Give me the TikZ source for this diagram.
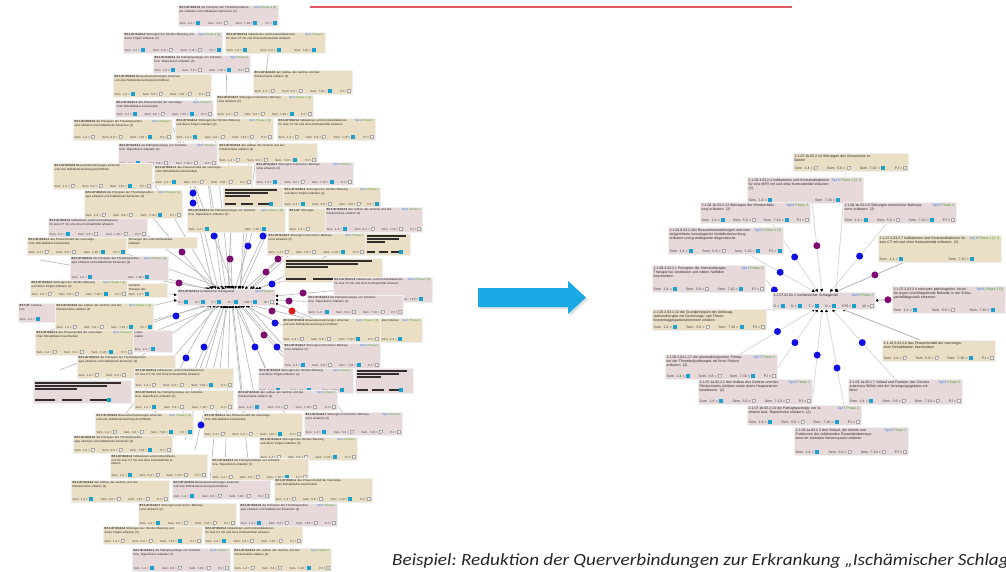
\documentclass[tikz,border=0pt]{standalone}
\usepackage{fontspec}
\usepackage{graphicx}
\setmainfont{Liberation Sans}
\newfontfamily\capfont{Carlito}
\usetikzlibrary{arrows.meta}
\pgfdeclarelayer{back}
\pgfdeclarelayer{bg}
\pgfsetlayers{back,bg,main}
\definecolor{cardtan}{RGB}{234,223,197}
\definecolor{cardpink}{RGB}{231,217,217}
\definecolor{sqcol}{RGB}{30,160,205}
\definecolor{tagblue}{RGB}{40,120,225}
\definecolor{taggreen}{RGB}{70,160,60}
\definecolor{dotblue}{RGB}{15,15,225}
\definecolor{dotpurple}{RGB}{125,10,110}
\definecolor{dotred}{RGB}{230,25,25}
\definecolor{arrowblue}{RGB}{25,170,230}
\definecolor{topred}{RGB}{222,90,95}
\definecolor{barcol}{RGB}{50,45,45}

\newcommand\cardfont{\fontsize{2.9}{3.4}\selectfont}
\newcommand\sqon{\textcolor{sqcol}{\rule[-0.5pt]{4pt}{3.4pt}}}
\newcommand\sqoff{{\setlength\fboxsep{0pt}\setlength\fboxrule{0.25pt}\fcolorbox{gray!70}{gray!12}{\rule[-0.3pt]{0pt}{2.8pt}\hspace{2.8pt}}}}
\newcommand\sq[1]{\ifcase#1 \sqoff\or\sqon\fi}
\newcommand\semrow[4]{\hbox to\hsize{Sem. 1-4 = \sq{#1}\hfill Sem. 5-6 = \sq{#2}\hfill Sem. 7-10 = \sq{#3}\hfill PJ = \sq{#4}}}
\newcommand\semtwo[2]{\hbox to\hsize{Sem. 1-4 = \sq{#1}\hspace{0.38\hsize}Sem. 7-10 = \sq{#2}\hfill}}
\newcommand\semthree[3]{\hbox to\hsize{Sem. 1-4 = \sq{#1}\hfill Sem. 5-6 = \sq{#2}\hfill Sem. 7-10 = \sq{#3}\hspace{0.08\hsize}}}
\newcommand\semone[1]{\hbox to\hsize{Sem. 1-4 = \sq{#1}\hfill}}
\newcommand\hubrow{\hbox to\hsize{D = \sqon\hfill G = \sqon\hfill T = \sqon\hfill N = \sqon\hfill P/R = \sqon\hfill W = \sqoff}}
\newcommand\tg[3]{\textcolor{tagblue}{Spl #1} \textcolor{taggreen}{Phase #2#3}}

\newcommand\ttlA{\textbf{B7.1.07.08.01.5} die Prinzipien der Thrombolysetherapie erläutern und Indikationen benennen (2)}
\newcommand\ttlB{\textbf{B7.1.07.03.02.4} Störungen der Hirndurchblutung und deren Folgen erläutern (2)}
\newcommand\ttlC{\textbf{B7.1.07.06.01.2} Indikationen und Kontraindikationen für eine CT mit und ohne Kontrastmittel erläutern}
\newcommand\ttlD{\textbf{B7.1.07.04.03.1} die Pathophysiologie von Ischämie bzw. Reperfusion erläutern (2)}
\newcommand\ttlE{\textbf{B7.1.07.02.04.3} den Aufbau des Gehirns und des Rückenmarks erklären (2)}
\newcommand\ttlF{\textbf{B7.1.07.05.02.6} Bewusstseinsstörungen erkennen und eine Notfalluntersuchung durchführen}
\newcommand\ttlG{\textbf{B7.1.07.09.01.1} das Phasenmodell der neurologischen Rehabilitation beschreiben}
\newcommand\ttlH{\textbf{B7.1.07.01.02.7} Störungen motorischer Bahnsysteme erläutern (2)}

\newcommand\card[9]{%
  \node[cardbox,fill=#6,minimum width=#4,minimum height=#5,anchor=north west] (#1) at (#2,#3) {};
  \pgfmathsetlengthmacro\cardtw{0.7*#4}%
  \pgfmathsetlengthmacro\cardrw{#4-3}%
  \node[cardtitle,text width=\cardtw,anchor=north west] at ([shift={(1.5,1.4)}]#1.north west) {#7};
  \node[cardtag,anchor=north east] at ([shift={(-1.5,1.4)}]#1.north east) {#8};
  \node[cardrow,text width=\cardrw,anchor=south west] at ([shift={(1.5,-1.2)}]#1.south west) {#9};
}
\newcommand\barcard[6]{%
  \node[cardbox,fill=#6,minimum width=#4,minimum height=#5,anchor=north west] (#1) at (#2,#3) {};
  \begin{scope}[shift={(#2,#3)}]
    \draw[barline] (2,3) -- ({0.9*#4},3);
    \draw[barline] (2,6) -- ({0.75*#4},6);
    \draw[barline] (2,9) -- ({0.45*#4},9);
    \draw[barline] (2,{#5-3}) -- ({0.22*#4},{#5-3});
    \draw[barline] ({0.3*#4},{#5-3}) -- ({0.5*#4},{#5-3});
    \draw[barline] ({0.58*#4},{#5-3}) -- ({0.76*#4},{#5-3});
    \fill[sqcol] ({0.76*#4},{#5-5}) rectangle ++(4,4);
  \end{scope}}

\begin{document}
\begin{tikzpicture}[x=1pt,y=-1pt,
  cardbox/.style={rectangle,inner sep=0pt,outer sep=0pt,draw=black!6,line width=0.3pt},
  cardtitle/.style={inner sep=0pt,font=\cardfont,align=left,text=black!85},
  cardtag/.style={inner sep=0pt,font=\cardfont},
  cardrow/.style={inner sep=0pt,font=\cardfont,text=black!75},
  barline/.style={draw=barcol,line width=1.3pt},
  lconn/.style={draw=gray!55,line width=0.65pt,-{Triangle[length=2.8pt,width=2.6pt,color=black]}},
  rconn/.style={draw=gray!30,line width=0.8pt,{Triangle[length=3pt,width=2.8pt,color=black]}-},
  rconnd/.style={rconn,draw=gray!60},
  gdot/.style={circle,inner sep=0pt,minimum size=7pt,fill=#1}]
\useasboundingbox (0,0) rectangle (1006,571);
\begin{pgfonlayer}{back}\fill[white] (0,0) rectangle (1006,571);\end{pgfonlayer}

% top red line and blue arrow
\draw[topred,line width=1.6pt] (310,7) -- (792,7);
\fill[black,opacity=0.12] (480,290) -- (570,290) -- (570,283) -- (588,299.5) -- (570,316) -- (570,309) -- (480,309) -- cycle;
\fill[arrowblue] (478,288) -- (568,288) -- (568,281) -- (586,297.5) -- (568,314) -- (568,307) -- (478,307) -- cycle;

% ================= LEFT CLUSTER =================
\card{l1}{178}{5}{100}{21}{cardpink}{\ttlA}{\tg{1}{2}{ [2]}}{\semrow{1}{0}{1}{1}}
\card{l2}{123}{32}{99}{21}{cardpink}{\ttlB}{\tg{1}{2}{ [2]}}{\semrow{1}{0}{0}{1}}
\card{l3}{225}{32}{100}{21}{cardtan}{\ttlC}{\tg{1}{2}{}}{\semthree{1}{1}{1}}
\card{l4}{153}{55}{97}{18}{cardpink}{\ttlD}{\tg{1}{2}{}}{\semrow{1}{0}{1}{0}}
\card{l5}{253}{70}{99}{24}{cardtan}{\ttlE}{}{\semrow{0}{0}{1}{0}}
\card{l6}{113}{74}{98}{23}{cardtan}{\ttlF}{}{\semrow{1}{0}{0}{0}}
\card{l7}{115}{100}{98}{17}{cardpink}{\ttlG}{\tg{1}{2}{}}{\semrow{1}{0}{1}{0}}
\card{l8}{216}{95}{97}{22}{cardtan}{\ttlH}{\tg{1}{2}{ [2]}}{\semrow{0}{0}{1}{0}}
\card{l9}{73}{119}{99}{21}{cardtan}{\ttlA}{\tg{1}{2}{}}{\semrow{0}{0}{1}{0}}
\card{l10}{175}{118}{98}{22}{cardtan}{\ttlB}{\tg{1}{2}{ [2]}}{\semrow{1}{0}{0}{0}}
\card{l11}{277}{118}{98}{22}{cardtan}{\ttlC}{\tg{1}{2}{}}{\semrow{0}{0}{1}{0}}
\card{l12}{118}{143}{99}{23}{cardpink}{\ttlD}{\tg{1}{2}{}}{\semrow{1}{0}{0}{0}}
\card{l13}{218}{143}{99}{20}{cardtan}{\ttlE}{}{\semrow{0}{0}{1}{0}}
\card{l14}{53}{163}{99}{26}{cardtan}{\ttlF}{}{\semrow{0}{0}{1}{0}}
\card{l15}{154}{165}{98}{20}{cardtan}{\ttlG}{}{\semrow{1}{0}{0}{0}}
\card{l16}{255}{162}{98}{23}{cardpink}{\ttlH}{\tg{1}{2}{}}{\semrow{1}{0}{1}{0}}
\card{l17}{84}{190}{98}{28}{cardtan}{\ttlA}{\tg{1}{2}{ [2]}}{\semrow{0}{0}{1}{0}}
\barcard{l18}{223}{187}{60}{20}{cardtan}
\card{l19}{283}{187}{97}{20}{cardtan}{\ttlB}{\tg{1}{2}{}}{\semrow{1}{0}{0}{1}}
\card{l20}{48}{218}{99}{19}{cardpink}{\ttlC}{}{\semrow{1}{0}{0}{0}}
\card{l21}{187}{208}{98}{24}{cardtan}{\ttlD}{\tg{1}{1}{ [2]}}{\semtwo{1}{1}}
\card{l22}{288}{208}{37}{24}{cardtan}{\textbf{B7.1.07} Störungen}{}{\semone{0}}
\card{l23}{325}{207}{97}{25}{cardpink}{\ttlE}{\tg{1}{2}{}}{\semrow{1}{0}{0}{0}}
\card{l25}{127}{237}{70}{11}{cardtan}{Störungen des Volumenhaushalts erläutern}{}{}
\card{l24}{27}{237}{99}{18}{cardtan}{\ttlG}{}{\semrow{0}{0}{1}{1}}
\card{l26}{267}{233}{98}{22}{cardtan}{\ttlH}{\tg{1}{2}{}}{\semrow{0}{0}{1}{0}}
\barcard{l26b}{365}{233}{45}{22}{cardtan}
\card{l27}{70}{256}{98}{24}{cardpink}{\ttlA}{\tg{1}{2}{ [2]}}{\semtwo{1}{1}}
\barcard{l28}{284}{258}{98}{24}{cardtan}
\card{l29}{30}{280}{97}{17}{cardtan}{\ttlB}{\tg{1}{2}{ [2]}}{\semrow{0}{0}{1}{0}}
\card{l30}{127}{283}{40}{14}{cardtan}{Ischämie\\ Therapie des}{}{\semone{1}}
\card{l31}{333}{277}{99}{25}{cardpink}{\ttlC}{\tg{1}{2}{ [2]}}{\semthree{1}{0}{1}}
\card{lh}{177}{289}{98}{16}{cardpink}{\textbf{B7.1.07.02.01.1} Ischämischer Schlaganfall}{\tg{6}{2}{}}{\hubrow}
\card{l33}{307}{295}{96}{20}{cardpink}{\ttlD}{}{\semrow{1}{0}{0}{0}}
\card{l34}{18}{303}{37}{19}{cardpink}{\textbf{B7.1.07} Lokalisation}{}{\semone{1}}
\card{l35}{55}{303}{98}{27}{cardtan}{\ttlE}{\tg{1}{2}{ [2]}}{\semrow{0}{0}{1}{1}}
\card{l36}{282}{318}{98}{24}{cardtan}{\ttlF}{\tg{1}{2}{ [2]}}{\semrow{0}{0}{1}{0}}
\card{l36b}{380}{318}{42}{24}{cardtan}{aller Kriterien}{\tg{1}{2}{}}{\semone{1}}
\card{l37}{35}{330}{98}{25}{cardtan}{\ttlG}{\tg{1}{2}{}}{\semrow{0}{0}{1}{0}}
\card{l38}{133}{330}{39}{22}{cardpink}{Lokal-\\ isation}{}{\semone{1}}
\card{l39}{283}{343}{97}{25}{cardpink}{\ttlH}{\tg{1}{2}{}}{\semrow{1}{0}{1}{0}}
\card{l40}{77}{355}{98}{23}{cardtan}{\ttlA}{}{\semrow{0}{0}{0}{0}}
\card{l41}{258}{368}{95}{25}{cardpink}{\ttlB}{\tg{1}{2}{}}{\semthree{1}{1}{1}}
\barcard{l42}{355}{368}{58}{25}{cardpink}
\card{l43}{134}{368}{99}{20}{cardtan}{\ttlC}{}{\semrow{0}{0}{1}{0}}
\barcard{l44}{33}{380}{98}{23}{cardpink}
\card{l45}{134}{390}{99}{20}{cardtan}{\ttlD}{}{\semrow{1}{0}{0}{0}}
\card{l46}{237}{390}{100}{20}{cardpink}{\ttlE}{\tg{1}{2}{}}{\semrow{1}{0}{0}{0}}
\card{l47}{95}{413}{98}{22}{cardtan}{\ttlF}{\tg{1}{2}{ [2]}}{\semrow{0}{0}{1}{1}}
\card{l48}{203}{413}{99}{24}{cardtan}{\ttlG}{}{\semrow{0}{0}{1}{0}}
\card{l49}{304}{412}{98}{23}{cardpink}{\ttlH}{\tg{1}{2}{}}{\semrow{1}{0}{0}{0}}
\card{l50}{73}{435}{99}{18}{cardtan}{\ttlA}{}{\semrow{0}{0}{1}{0}}
\card{l51}{259}{437}{98}{23}{cardtan}{\ttlB}{\tg{1}{2}{}}{\semrow{0}{0}{1}{0}}
\card{l52}{110}{454}{97}{24}{cardtan}{\ttlC}{}{\semrow{1}{0}{0}{0}}
\card{l53}{211}{458}{97}{22}{cardtan}{\ttlD}{}{\semrow{0}{0}{1}{0}}
\card{l54}{71}{480}{98}{22}{cardtan}{\ttlE}{}{\semrow{1}{0}{0}{0}}
\card{l55}{172}{480}{98}{19}{cardpink}{\ttlF}{}{\semrow{1}{0}{0}{0}}
\card{l56}{274}{478}{98}{24}{cardtan}{\ttlG}{}{\semrow{0}{0}{1}{0}}
\card{l57}{138}{503}{98}{23}{cardtan}{\ttlH}{}{\semrow{1}{0}{0}{0}}
\card{l58}{239}{503}{98}{23}{cardpink}{\ttlA}{\tg{1}{2}{}}{\semrow{1}{0}{0}{0}}
\card{l59}{103}{526}{99}{18}{cardtan}{\ttlB}{}{\semrow{0}{0}{1}{0}}
\card{l60}{204}{526}{98}{18}{cardtan}{\ttlC}{}{\semrow{1}{0}{0}{0}}
\card{l61}{132}{548}{98}{23}{cardpink}{\ttlD}{\tg{1}{2}{}}{\semrow{1}{0}{0}{0}}
\card{l62}{233}{548}{98}{23}{cardtan}{\ttlE}{\tg{1}{2}{}}{\semrow{0}{0}{1}{0}}

\begin{pgfonlayer}{bg}
\foreach \sx/\sy/\ex/\ey in {213/289/180/140, 218/289/178/120, 222/289/205/160, 238/289/280/200,
  235/289/262/200, 212/289/130/190, 228/289/232/200, 245/289/320/222, 250/289/320/218,
  208/289/100/262, 255/289/330/268, 216/289/140/160, 220/289/100/200, 225/289/60/230,
  230/289/215/140, 240/289/250/140, 242/289/300/160, 252/289/350/200, 210/289/40/260,
  258/289/360/240, 234/289/170/120, 232/289/226/60, 240/289/270/40, 226/289/190/60,
  275/296/340/290, 275/300/320/302, 275/303/330/325, 177/295/60/280, 177/300/50/330,
  250/305/330/324, 205/305/100/340, 245/305/330/352, 240/305/300/377, 242/305/330/407,
  235/305/285/407, 222/305/180/405, 215/305/140/440, 228/305/195/450, 218/305/120/420,
  225/305/160/470, 230/305/225/470, 232/305/250/480, 236/305/270/470, 226/305/210/480,
  238/305/300/450, 212/305/80/400, 220/305/60/370, 247/305/350/420, 210/305/60/345,
  233/305/245/420, 224/305/185/440}
  \draw[lconn] (\ex,\ey) -- (\sx,\sy);
\end{pgfonlayer}

\foreach \x/\y in {193/193, 193/203, 214/236, 263/236, 248/246, 272/284, 176/316, 275/323,
  277/347, 255/347, 204/347, 186/358, 201/425}
  \node[gdot=dotblue] at (\x,\y) {};
\foreach \x/\y in {182/252, 230/259, 278/259, 266/272, 179/283, 303/293, 289/301, 272/311, 264/335}
  \node[gdot=dotpurple] at (\x,\y) {};
\node[gdot=dotred] at (292,311) {};

% ================= RIGHT GRAPH =================
\renewcommand\cardfont{\fontsize{3.5}{4.0}\selectfont}
\card{r1}{793}{153}{115}{18}{cardtan}{2.1.07.1b.03.2.14 Störungen des Sensoriums erläutern}{}{\semrow{0}{0}{1}{0}}
\card{r2}{747}{177}{116}{26}{cardpink}{2.1.09.3.03.2.4 Indikationen und Kontraindikationen für eine MRT mit und ohne Kontrastmittel erläutern. (2)}{\tg{6}{1}{ [2,7]}}{\semtwo{1}{1}}
\card{r3}{700}{202}{110}{21}{cardpink}{2.1.06.1b.03.2.13 Störungen der Hirndurchblutung erläutern. (2)}{\tg{6}{2}{}}{\semrow{1}{0}{1}{0}}
\card{r4}{843}{202}{113}{21}{cardpink}{2.1.06.1b.03.2.6 Störungen motorischer Bahnsysteme erläutern. (2)}{\tg{6}{2}{}}{\semrow{1}{0}{1}{0}}
\card{r5}{668}{227}{115}{27}{cardpink}{2.1.02.6.03.2.1b1 Bewusstseinsstörungen und eine zielgerichtete neurologische Notfalluntersuchung erläutern und grundlegende diagnostische}{\tg{6}{1}{ [3]}}{\semrow{1}{0}{1}{1}}
\card{r6}{878}{235}{123}{27}{cardtan}{2.1.07.2.03.2.7 Indikationen und Kontraindikationen für eine CT mit und ohne Kontrastmittel erläutern. (2)}{\tg{6}{1}{ [2,7]}}{\semtwo{1}{1}}
\card{r7}{652}{265}{113}{27}{cardpink}{2.1.09.3.03.2.1 Prinzipien der Intensivtherapie, Therapie bei zerebralen und vitalen Notfällen beschreiben.}{\tg{1}{2}{}}{\semrow{1}{0}{1}{0}}
\card{rc}{772}{292}{103}{17}{cardpink}{2.1.07.02.01.1 Ischämischer Schlaganfall}{\tg{6}{2}{}}{\hubrow}
\card{r9}{892}{286}{113}{27}{cardpink}{2.1.07.2.03.2.4 relevante pathologische Veränderungen und bildgebende Befunde in der Schlaganfalldiagnostik erkennen.}{\tg{6}{1}{ [3]}}{\semthree{1}{0}{1}}
\card{r10}{652}{309}{114}{21}{cardtan}{2.1.05.2.03.1.10 die Grundprinzipien der Antikoagulationstherapie mit Gerinnungs- und Thrombozytenaggregationshemmern erklären}{}{\semrow{1}{0}{1}{0}}
\card{r11}{882}{340}{113}{21}{cardtan}{2.1.16.5.03.2.6 das Phasenmodell der neurologischen Rehabilitation beschreiben}{}{\semrow{0}{0}{1}{0}}
\card{r12}{665}{354}{112}{25}{cardpink}{2.1.05.2.04.1.17 die pharmakologischen Prinzipien der Thrombolysetherapie mit ihren Risiken erläutern. (2)}{\tg{7}{2}{}}{\semrow{1}{0}{1}{0}}
\card{r13}{698}{379}{114}{25}{cardpink}{2.1.07.1a.03.2.2 den Aufbau des Gehirns und des Rückenmarks erklären sowie deren Hauptarterien lokalisieren. (2)}{\tg{6}{2}{}}{\semrow{1}{0}{0}{0}}
\card{r14}{848}{379}{114}{25}{cardpink}{2.1.03.1a.03.1.7 Verlauf und Funktion des Circulus arteriosus Willisii und der Versorgungsgebiete erklären}{\tg{6}{2}{}}{\semrow{1}{0}{0}{0}}
\card{r15}{747}{405}{114}{20}{cardpink}{2.1.07.1b.03.2.13 die Pathophysiologie von Ischämie bzw. Reperfusion erläutern. (2)}{\tg{7}{2}{}}{\semrow{1}{0}{1}{0}}
\card{r16}{794}{427}{114}{28}{cardpink}{2.1.03.1a.03.2.3 den Verlauf, die Anteile und Funktionen der zuführenden Pyramidenbahnsysteme im zentralen Nervensystem erklären.}{\tg{6}{2}{}}{\semrow{1}{0}{0}{0}}

\begin{pgfonlayer}{bg}
\draw[rconn] ([xshift=12.5]rc.north) -- ([xshift=-4.5]r1.south);
\draw[rconn] ([xshift=-1.5]rc.north) -- node[gdot=dotpurple,pos=0.52]{} ([xshift=7]r2.south);
\draw[rconn] ([xshift=-5.5]rc.north) -- node[gdot=dotblue,pos=0.507]{} ([xshift=-38]r3.south east);
\draw[rconn] ([xshift=6.5]rc.north) -- node[gdot=dotblue,pos=0.52]{} ([xshift=-12.5]r4.south);
\draw[rconn] ([xshift=-8.5]rc.north) -- node[gdot=dotblue,pos=0.52]{} ([xshift=22.5]r5.south);
\draw[rconnd] ([xshift=11.5]rc.north) -- node[gdot=dotpurple,pos=0.57]{} ([xshift=27]r6.south west);
\draw[rconn] ([xshift=4]rc.north west) -- node[gdot=dotblue,pos=0.15]{} (r7.east);
\draw[rconnd] (rc.east) -- node[gdot=dotpurple,pos=0.76]{} (r9.west);
\draw[rconn] ([xshift=5]rc.south west) -- (r10.north east);
\draw[rconnd] ([xshift=18.5]rc.south) -- ([xshift=-18.5]r11.north);
\draw[rconn] ([xshift=-8.5]rc.south) -- node[gdot=dotblue,pos=0.5]{} ([xshift=19]r12.north);
\draw[rconn] ([xshift=-5.5]rc.south) -- node[gdot=dotblue,pos=0.48]{} ([xshift=15]r13.north);
\draw[rconn] ([xshift=8.5]rc.south) -- node[gdot=dotblue,pos=0.48]{} ([xshift=-10]r14.north);
\draw[rconn] ([xshift=-1.5]rc.south) -- node[gdot=dotblue,pos=0.48]{} ([xshift=8]r15.north);
\draw[rconn] ([xshift=2.5]rc.south) -- node[gdot=dotblue,pos=0.5]{} ([xshift=-3]r16.north);
\end{pgfonlayer}

% caption
\node[anchor=base west,inner sep=0pt,text=black!85,font={\capfont\itshape\fontsize{17}{20}\selectfont\frenchspacing}] (cap) at (392,565)
  {\scalebox{1.13}[1]{Beispiel: Reduktion der Querverbindungen zur Erkrankung „Ischämischer Schlaganfall“}};
\end{tikzpicture}
\end{document}
